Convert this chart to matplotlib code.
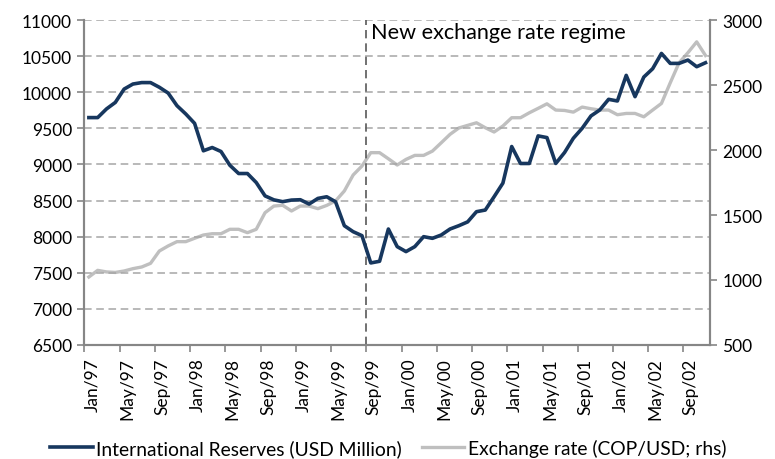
import matplotlib
matplotlib.use("Agg")
import matplotlib.pyplot as plt
import matplotlib.transforms as mtransforms
import numpy as np

plt.rcParams['font.family'] = ['Lato', 'DejaVu Sans']

# Monthly data Jan/97 .. Nov/02
months = ["Jan", "Feb", "Mar", "Apr", "May", "Jun", "Jul", "Aug", "Sep", "Oct", "Nov", "Dec"]
dates = [f"{months[m]}/{str(y)[2:]}" for y in range(1997, 2003) for m in range(12)][:71]

reserves = [9650, 9650, 9770, 9860, 10045, 10115, 10135, 10135, 10070, 9990,
            9815, 9700, 9570, 9190, 9235, 9180, 8990, 8875, 8875, 8750,
            8565, 8510, 8485, 8507, 8512, 8452, 8530, 8553, 8484, 8152,
            8069, 8014, 7636, 7659, 8106, 7862, 7793, 7862, 8000, 7977,
            8023, 8106, 8152, 8205, 8346, 8369, 8553, 8742, 9249, 9014,
            9014, 9396, 9373, 9014, 9166, 9364, 9502, 9673, 9756, 9903,
            9880, 10235, 9940, 10212, 10327, 10539, 10401, 10401, 10447, 10355,
            10410]

exchange = [1023, 1074, 1062, 1058, 1069, 1087, 1100, 1128, 1223, 1262,
            1295, 1295, 1321, 1346, 1356, 1356, 1390, 1390, 1364, 1390,
            1518, 1569, 1575, 1531, 1569, 1569, 1549, 1574, 1608, 1685,
            1808, 1877, 1980, 1980, 1933, 1885, 1928, 1959, 1959, 1992,
            2056, 2121, 2170, 2190, 2210, 2172, 2139, 2185, 2249, 2249,
            2287, 2321, 2356, 2308, 2305, 2292, 2331, 2318, 2308, 2308,
            2272, 2282, 2282, 2256, 2308, 2359, 2518, 2672, 2749, 2833,
            2728]

left_ticks = [6500, 7000, 7500, 8000, 8500, 9000, 9500, 10000, 10500, 11000]
right_ticks = [500, 1000, 1500, 2000, 2500, 3000]
regime_start = "Sep/99"
annotation = "New exchange rate regime"
label_res = "International Reserves (USD Million)"
label_fx = "Exchange rate (COP/USD; rhs)"

navy = "#17375E"
grey_line = "#BFBFBF"
axis_grey = "#868686"

fig = plt.figure(figsize=(7.75, 4.6), dpi=100)
ax = fig.add_axes([0.109, 0.248, 0.807, 0.706])
ax2 = ax.twinx()

x = np.arange(len(dates))
l1, = ax.plot(x, reserves, color=navy, lw=2.6, zorder=3, solid_joinstyle='round')
l2, = ax2.plot(x, exchange, color=grey_line, lw=2.4, zorder=2, solid_joinstyle='round')

ax.set_zorder(ax2.get_zorder() + 1)
ax.patch.set_visible(False)

ax.set_xlim(-0.5, len(dates) - 0.5)
ax.set_ylim(6500, 11000)
ax2.set_ylim(500, 3000)
ax.set_yticks(left_ticks)
ax2.set_yticks(right_ticks)

lab_pos = list(range(0, len(dates), 4))
ax.set_xticks(lab_pos)
ax.set_xticklabels([dates[i] for i in lab_pos], rotation=90, fontsize=12.5)
ax.set_xticks([p - 0.5 for p in lab_pos], minor=True)
ax.tick_params(axis='x', which='major', length=0, pad=9)
ax.tick_params(axis='x', which='minor', length=5, color=axis_grey, width=1.2)
ax.tick_params(axis='y', length=5, color=axis_grey, width=1.2, labelsize=12.5, pad=4)
ax2.tick_params(axis='y', length=5, color=axis_grey, width=1.2, labelsize=12.5, pad=4)

offset = mtransforms.ScaledTranslation(3 / 100, 0, fig.dpi_scale_trans)
for lbl in ax.get_xticklabels():
    lbl.set_transform(lbl.get_transform() + offset)

for a in (ax, ax2):
    a.spines['top'].set_visible(False)
    for s in ('left', 'right', 'bottom'):
        a.spines[s].set_color(axis_grey)
        a.spines[s].set_linewidth(1.5)

ax.yaxis.grid(True, color="#A6A6A6", linestyle=(0, (5, 3)), lw=1.1)
ax.set_axisbelow(True)

xv = dates.index(regime_start) - 0.5
ax.axvline(xv, color="#595959", lw=1.2, linestyle=(0, (5, 3)), zorder=1)
ax.text(xv + 0.5, 10830, annotation, fontsize=15.6, va='center', ha='left', color='black')

fig.legend([l1, l2], [label_res, label_fx], loc='center', bbox_to_anchor=(0.501, 0.024),
           ncol=2, frameon=False, fontsize=13.9, handlelength=2.2, columnspacing=1.0,
           handletextpad=0.2, borderpad=0, borderaxespad=0)

fig.savefig("out.png", dpi=100)
